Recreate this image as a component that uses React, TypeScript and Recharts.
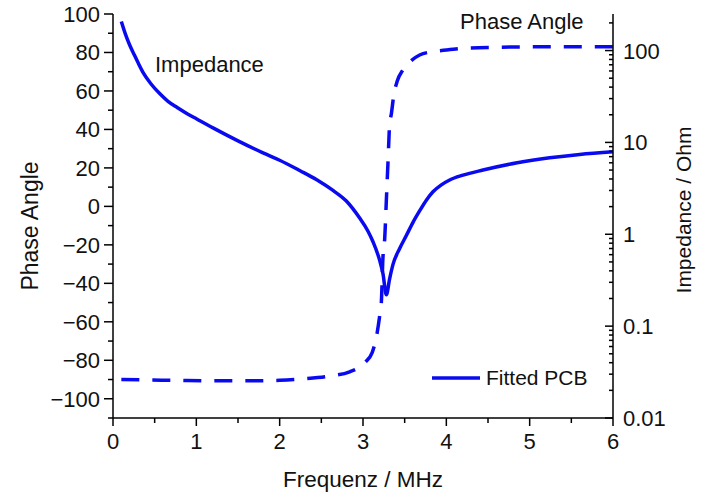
import { ComposedChart, Line, XAxis, YAxis, Legend } from "recharts";

const BLUE = "#0a0af0";
const FONT = "'Liberation Sans', Arial, sans-serif";

// phase angle (dashed)
const phaseFreq = [0.1, 0.4, 0.8, 1.2, 1.6, 2.0, 2.3, 2.6, 2.84, 3.02, 3.11, 3.17, 3.2, 3.22, 3.24, 3.26, 3.28, 3.3, 3.32, 3.34, 3.37, 3.41, 3.48, 3.56, 3.68, 3.85, 4.0, 4.25, 4.6, 5.0, 5.5, 6.0];
const phaseDeg = [-90, -90.2, -90.5, -90.7, -90.7, -90.4, -89.6, -88.2, -86, -81.3, -76, -65.7, -57, -50, -26, -17, 3, 23, 43, 48, 58, 65, 71, 75, 78.7, 80.5, 81.3, 82.3, 82.7, 82.9, 83, 83];

// impedance magnitude (solid), ohm
const impFreq = [
  0.1, 0.15, 0.2, 0.25, 0.3, 0.36, 0.45, 0.56, 0.66, 0.77, 0.9, 1.0, 1.2, 1.5, 1.8, 2.0, 2.24, 2.44, 2.64, 2.8, 2.96,
  3.06, 3.12, 3.2, 3.24, 3.28, 3.32, 3.36, 3.44, 3.52, 3.6, 3.68, 3.76, 3.84, 3.94, 4.04, 4.2, 4.44, 4.85, 5.24, 5.6, 6.0,
];
const impOhm = [
  207, 150, 115, 92, 74, 58, 44, 34, 28, 24, 20.3, 18.1, 14.4, 10.4, 7.7, 6.4, 4.95, 3.95, 3.0, 2.3, 1.5,
  1.08, 0.83, 0.52, 0.37, 0.22, 0.33, 0.47, 0.7, 0.97, 1.35, 1.8, 2.35, 2.9, 3.45, 3.9, 4.4, 5.0, 6.0, 6.8, 7.4, 7.9,
];

const xTicks = [0, 0.5, 1, 1.5, 2, 2.5, 3, 3.5, 4, 4.5, 5, 5.5, 6];
const phaseTicks = [-110, -100, -90, -80, -70, -60, -50, -40, -30, -20, -10, 0, 10, 20, 30, 40, 50, 60, 70, 80, 90, 100];
const impTicks = [
  0.01, 0.02, 0.03, 0.04, 0.05, 0.06, 0.07, 0.08, 0.09,
  0.1, 0.2, 0.3, 0.4, 0.5, 0.6, 0.7, 0.8, 0.9,
  1, 2, 3, 4, 5, 6, 7, 8, 9,
  10, 20, 30, 40, 50, 60, 70, 80, 90,
  100, 200,
];

const phaseData = phaseFreq.map((f, i) => ({ f, phase: phaseDeg[i] }));
const impData = impFreq.map((f, i) => ({ f, imp: impOhm[i] }));

const fmtNum = (v: number) => (v < 0 ? "\u2212" + Math.abs(v) : String(v));

function BottomTick({ x, y, payload }: any) {
  const v = payload.value;
  const major = Number.isInteger(v);
  return (
    <g>
      <line x1={x} x2={x} y1={y} y2={y + (major ? 8 : 5)} stroke="#000" strokeWidth={1.5} />
      {major && (
        <text x={x} y={y + 31} textAnchor="middle" fontSize={22} fontFamily={FONT} fill="#111">
          {v}
        </text>
      )}
    </g>
  );
}

function LeftTick({ x, y, payload }: any) {
  const v = payload.value;
  const major = v % 20 === 0;
  return (
    <g>
      <line x1={x} x2={x - (major ? 9 : 5)} y1={y} y2={y} stroke="#000" strokeWidth={1.5} />
      {major && (
        <text x={x - 13} y={y + 8} textAnchor="end" fontSize={22} fontFamily={FONT} fill="#111">
          {fmtNum(v)}
        </text>
      )}
    </g>
  );
}

function RightTick({ x, y, payload }: any) {
  const v = payload.value;
  const lg = Math.log10(v);
  const major = Math.abs(lg - Math.round(lg)) < 1e-6;
  return (
    <g>
      <line x1={x} x2={x - (major ? 8 : 4)} y1={y} y2={y} stroke="#000" strokeWidth={1.5} />
      {major && (
        <text x={x + 10} y={y + 8} textAnchor="start" fontSize={22} fontFamily={FONT} fill="#111">
          {String(v)}
        </text>
      )}
    </g>
  );
}

function LegendBox({ payload }: any) {
  const items = (payload ?? []).filter((p: any) => p.type !== "none" && p.value === "Fitted PCB");
  return (
    <div style={{ display: "flex", alignItems: "center", fontFamily: FONT, fontSize: 21, color: "#111" }}>
      {items.map((p: any) => (
        <div key={p.value} style={{ display: "flex", alignItems: "center" }}>
          <svg width={54} height={10}>
            <line x1={0} x2={48} y1={5} y2={5} stroke={p.color} strokeWidth={3.5} />
          </svg>
          <span>{p.value}</span>
        </div>
      ))}
    </div>
  );
}

export default function App() {
  return (
    <div style={{ position: "absolute", left: 0, top: 0, width: 704, height: 494, background: "#fff" }}>
      <ComposedChart width={704} height={494} margin={{ top: 14, right: 31, bottom: 36, left: 53 }}>
        <XAxis
          dataKey="f"
          type="number"
          domain={[0, 6]}
          ticks={xTicks}
          interval={0}
          height={40}
          tickSize={0}
          tickMargin={0}
          tickLine={false}
          tick={<BottomTick />}
          axisLine={{ stroke: "#000", strokeWidth: 1.5 }}
          allowDuplicatedCategory={false}
        />
        <YAxis
          yAxisId="phase"
          type="number"
          domain={[-110, 100]}
          ticks={phaseTicks}
          interval={0}
          width={60}
          tickSize={0}
          tickMargin={0}
          tickLine={false}
          tick={<LeftTick />}
          axisLine={{ stroke: "#000", strokeWidth: 1.5 }}
        />
        <YAxis
          yAxisId="imp"
          orientation="right"
          type="number"
          scale="log"
          domain={[0.01, 250]}
          allowDataOverflow
          ticks={impTicks}
          interval={0}
          width={60}
          tickSize={0}
          tickMargin={0}
          tickLine={false}
          tick={<RightTick />}
          axisLine={{ stroke: "#000", strokeWidth: 1.5 }}
        />
        <Line
          yAxisId="phase"
          data={phaseData}
          dataKey="phase"
          type="monotone"
          stroke={BLUE}
          strokeWidth={3.5}
          strokeDasharray="18 13"
          dot={false}
          legendType="none"
          isAnimationActive={false}
        />
        <Line
          yAxisId="imp"
          data={impData}
          dataKey="imp"
          name="Fitted PCB"
          type="monotone"
          stroke={BLUE}
          strokeWidth={3.5}
          dot={false}
          isAnimationActive={false}
        />
        <Legend
          layout="horizontal"
          verticalAlign="middle"
          align="center"
          content={<LegendBox />}
          wrapperStyle={{ left: 432, top: 366, width: "auto", height: "auto" }}
        />
      </ComposedChart>
      <svg
        width={704}
        height={494}
        style={{ position: "absolute", left: 0, top: 0, pointerEvents: "none" }}
        fontFamily={FONT}
        fill="#111"
      >
        <text transform="translate(38,226) rotate(-90)" textAnchor="middle" fontSize={23}>
          Phase Angle
        </text>
        <text transform="translate(691,210) rotate(-90)" textAnchor="middle" fontSize={21}>
          Impedance / Ohm
        </text>
        <text x={363} y={487} textAnchor="middle" fontSize={22.5}>
          Frequenz / MHz
        </text>
        <text x={155} y={72} fontSize={22}>
          Impedance
        </text>
        <text x={460} y={29} fontSize={22}>
          Phase Angle
        </text>
      </svg>
    </div>
  );
}
